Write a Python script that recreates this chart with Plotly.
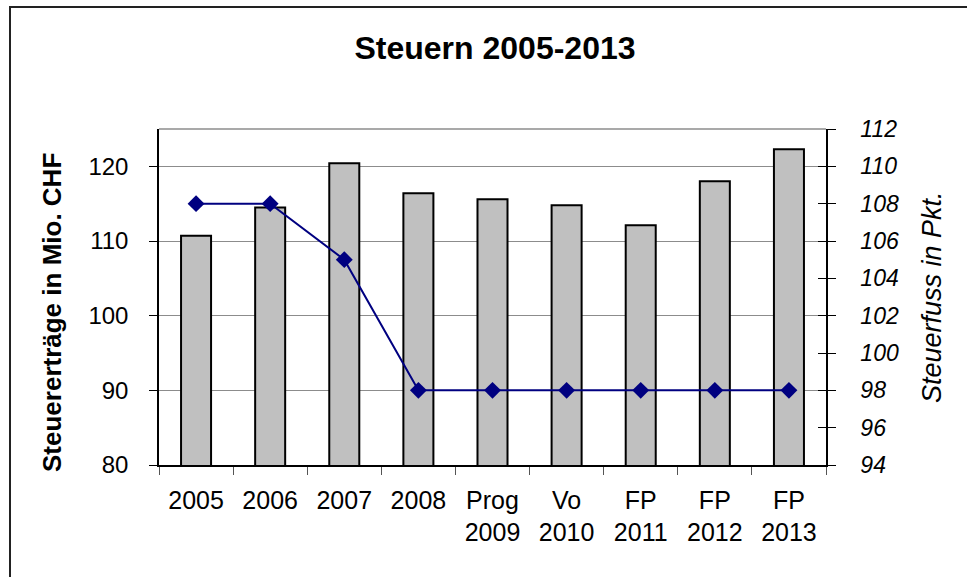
import plotly.graph_objects as go

# Categories and values
categories = ["2005", "2006", "2007", "2008", "Prog 2009", "Vo 2010", "FP 2011", "FP 2012", "FP 2013"]
tick_labels = ["2005", "2006", "2007", "2008", "Prog<br>2009", "Vo<br>2010", "FP<br>2011", "FP<br>2012", "FP<br>2013"]
steuerertraege = [110.7, 114.5, 120.4, 116.4, 115.6, 114.8, 112.1, 118.0, 122.3]   # Mio. CHF
steuerfuss = [108, 108, 105, 98, 98, 98, 98, 98, 98]                              # Pkt.
left_ticks = [80, 90, 100, 110, 120]
right_ticks = [94, 96, 98, 100, 102, 104, 106, 108, 110, 112]

FONT = "Liberation Sans, Arial, sans-serif"

W, H = 967, 577
L, R, T, B = 159, 141, 129, 112
plot_w = W - L - R
plot_h = H - T - B


def px_x(px):
    return (px - L) / plot_w


def px_y(py):
    return (H - B - py) / plot_h


fig = go.Figure()

fig.add_trace(go.Bar(
    x=categories, y=steuerertraege,
    marker=dict(color="#C0C0C0", line=dict(color="#000000", width=2)),
    yaxis="y", showlegend=False,
))

fig.add_trace(go.Scatter(
    x=categories, y=steuerfuss,
    mode="lines+markers",
    line=dict(color="#000080", width=2),
    marker=dict(symbol="diamond", size=13, color="#000080"),
    yaxis="y2", showlegend=False,
))

# Invisible trace so the inside tick axis is drawn
fig.add_trace(go.Scatter(x=[categories[0]], y=[steuerfuss[0]], yaxis="y3",
                         mode="markers", marker=dict(opacity=0), showlegend=False,
                         hoverinfo="skip"))

fig.update_layout(
    width=W, height=H,
    margin=dict(l=L, r=R, t=T, b=B),
    paper_bgcolor="white", plot_bgcolor="white",
    bargap=0.595,
    font=dict(family=FONT, color="black"),
    xaxis=dict(
        type="category", range=[-0.5, 8.5],
        tickvals=categories, ticktext=tick_labels,
        tickson="boundaries", ticks="outside", ticklen=8, tickcolor="#555555",
        ticklabelstandoff=12,
        showline=True, linecolor="black", linewidth=1.5,
        showgrid=False, tickfont=dict(size=25, family=FONT),
    ),
    yaxis=dict(
        range=[80, 125], tickvals=left_ticks,
        showgrid=True, gridcolor="#8c8c8c", gridwidth=1,
        showline=True, linecolor="black", linewidth=1.5,
        ticks="outside", ticklen=8, tickcolor="black",
        ticklabelstandoff=16,
        zeroline=False, tickfont=dict(size=24, family=FONT),
    ),
    yaxis2=dict(
        overlaying="y", side="right", range=[94, 112], tickvals=right_ticks,
        showgrid=False, zeroline=False,
        showline=True, linecolor="black", linewidth=1.5,
        ticks="outside", ticklen=8, tickcolor="black",
        ticklabelstandoff=20,
        tickfont=dict(size=23, family=FONT, style="italic"),
    ),
    yaxis3=dict(
        overlaying="y", side="right", range=[94, 112], tickvals=right_ticks,
        showgrid=False, zeroline=False, showline=False,
        ticks="inside", ticklen=8, tickcolor="black", showticklabels=False,
    ),
    title=dict(
        text="Steuern 2005-2013", x=495 / W, xanchor="center",
        y=1 - 48 / H, yanchor="middle",
        font=dict(size=32, family=FONT, weight="bold"),
    ),
)

annotations = [
    dict(text="Steuererträge in Mio. CHF", textangle=-90,
         xref="paper", yref="paper", x=px_x(52), y=px_y(313),
         xanchor="center", yanchor="middle", showarrow=False,
         font=dict(size=26, family=FONT, weight="bold")),
    dict(text="Steuerfuss in Pkt.", textangle=-90,
         xref="paper", yref="paper", x=px_x(932), y=px_y(297),
         xanchor="center", yanchor="middle", showarrow=False,
         font=dict(size=27, family=FONT, style="italic")),
]
fig.update_layout(annotations=annotations)

shapes = [
    # top edge of the plot area
    dict(type="line", xref="paper", yref="paper", x0=0, x1=1, y0=1, y1=1,
         line=dict(color="#8c8c8c", width=1.5)),
    # outer chart frame
    dict(type="rect", xref="paper", yref="paper",
         x0=px_x(10), x1=px_x(W + 20), y0=px_y(H + 20), y1=px_y(7),
         line=dict(color="#222222", width=2), layer="above"),
]
fig.update_layout(shapes=shapes)

fig.write_html("out.html")
